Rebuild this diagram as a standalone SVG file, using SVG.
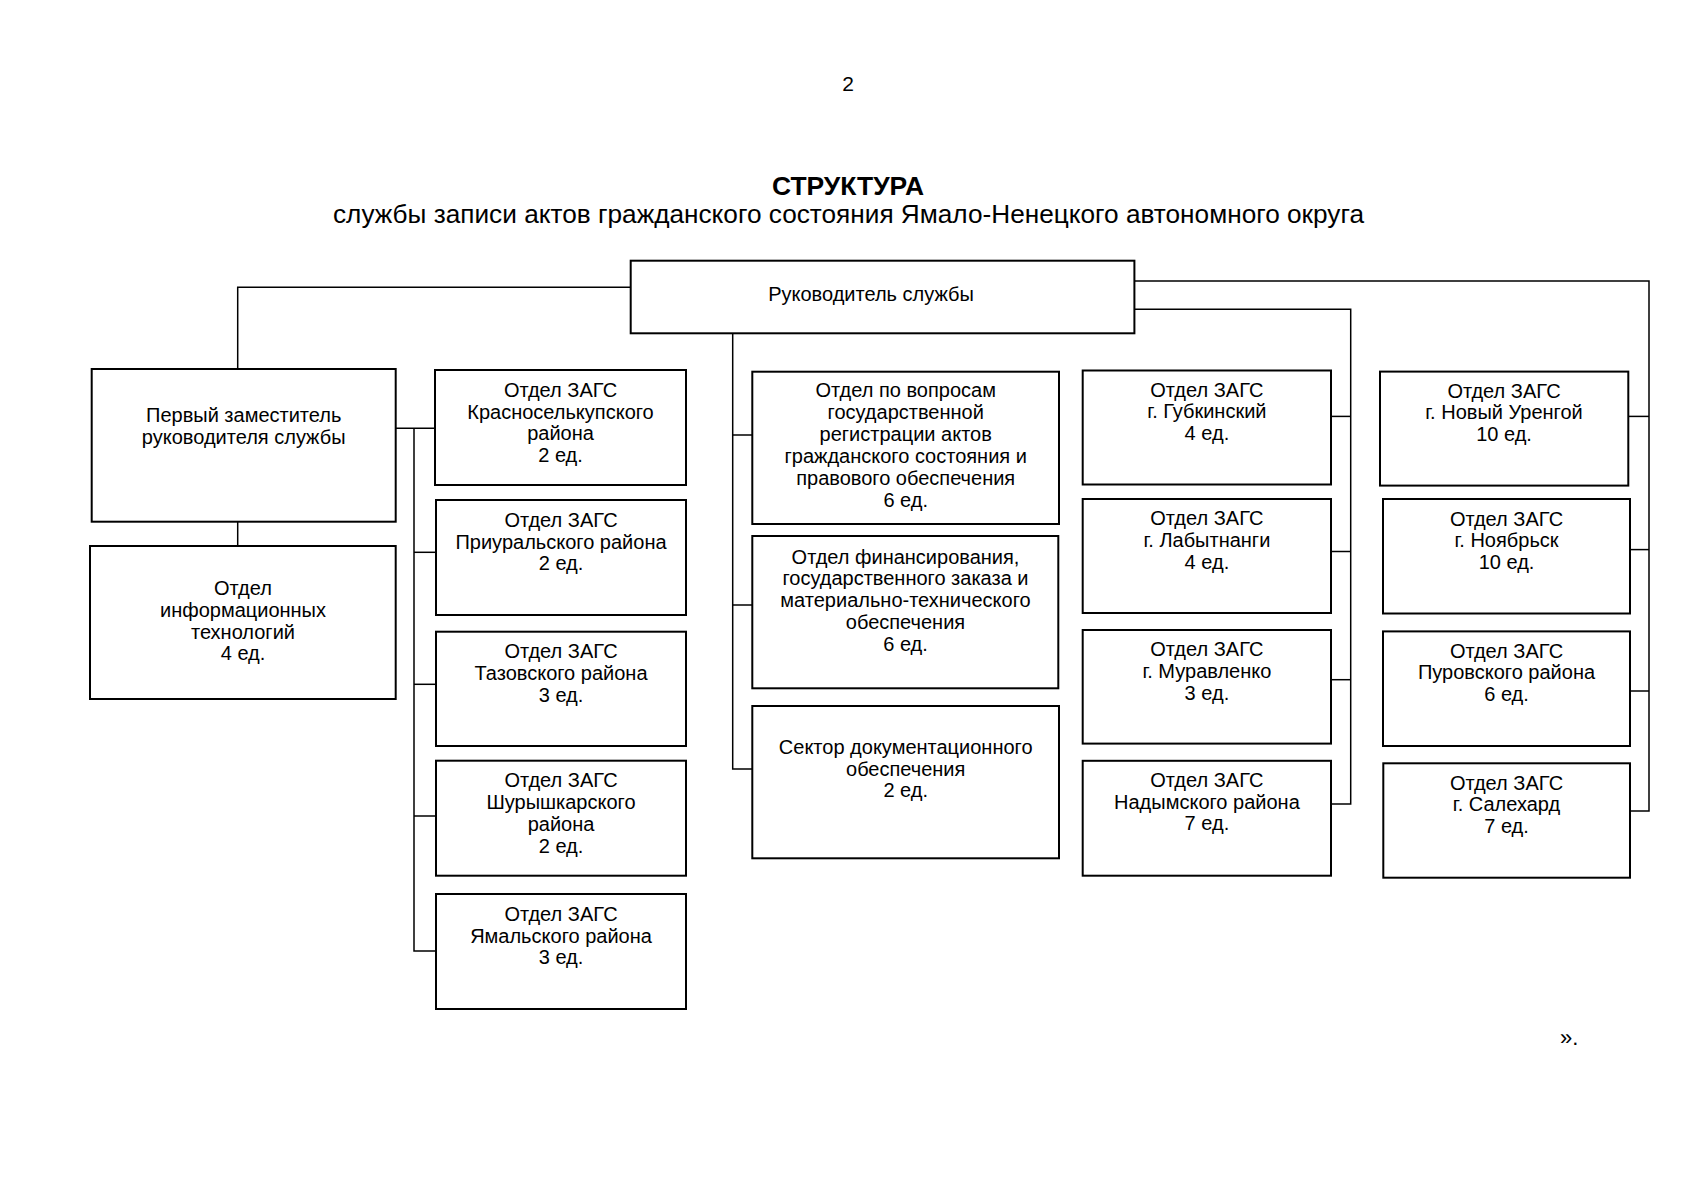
<svg xmlns="http://www.w3.org/2000/svg" width="1697" height="1200" viewBox="0 0 1697 1200">
<style>
  .bg { fill: #ffffff; }
  .box { fill: #ffffff; stroke: #000000; stroke-width: 2; }
  .con { fill: none; stroke: #000000; stroke-width: 1.5; }
  .t { font-family: "Liberation Sans", Arial, sans-serif; font-size: 20px; fill: #000000; text-anchor: middle; }
  .hdr { font-family: "Liberation Sans", Arial, sans-serif; fill: #000000; text-anchor: middle; }
</style>
<rect class="bg" x="0" y="0" width="1697" height="1200"/>
<text class="hdr" x="848" y="91" font-size="21">2</text>
<text class="hdr" x="848" y="195" font-size="25" font-weight="bold" textLength="152" lengthAdjust="spacingAndGlyphs">СТРУКТУРА</text>
<text class="hdr" x="848.5" y="222.5" font-size="25" textLength="1031" lengthAdjust="spacingAndGlyphs">службы записи актов гражданского состояния Ямало-Ненецкого автономного округа</text>
<text x="1560" y="1045" font-family="Liberation Sans, Arial, sans-serif" font-size="22" fill="#000000">».</text>

<g id="connectors">
  <polyline class="con" points="630.7,287.3 237.7,287.3 237.7,369"/>
  <line class="con" x1="237.7" y1="521.7" x2="237.7" y2="546"/>
  <line class="con" x1="395.7" y1="428.3" x2="435" y2="428.3"/>
  <polyline class="con" points="414,428.3 414,951 436,951"/>
  <line class="con" x1="414" y1="552.3" x2="436" y2="552.3"/>
  <line class="con" x1="414" y1="684.3" x2="436" y2="684.3"/>
  <line class="con" x1="414" y1="816" x2="436" y2="816"/>
  <polyline class="con" points="732.7,333.3 732.7,769 752.3,769"/>
  <line class="con" x1="732.7" y1="435" x2="752.3" y2="435"/>
  <line class="con" x1="732.7" y1="605" x2="752.3" y2="605"/>
  <polyline class="con" points="1134.4,309.2 1350.7,309.2 1350.7,804 1331,804"/>
  <line class="con" x1="1331" y1="416.4" x2="1350.7" y2="416.4"/>
  <line class="con" x1="1331" y1="551.5" x2="1350.7" y2="551.5"/>
  <line class="con" x1="1331" y1="679.7" x2="1350.7" y2="679.7"/>
  <polyline class="con" points="1134.4,281 1649,281 1649,811 1630,811"/>
  <line class="con" x1="1628.3" y1="416.4" x2="1649" y2="416.4"/>
  <line class="con" x1="1630" y1="549.6" x2="1649" y2="549.6"/>
  <line class="con" x1="1630" y1="691" x2="1649" y2="691"/>
</g>

<g id="root">
  <rect class="box" x="630.7" y="260.7" width="503.7" height="72.6"/>
  <text class="t" x="871" y="300.7">Руководитель службы</text>
</g>

<g id="deputy">
  <rect class="box" x="91.7" y="369" width="304" height="152.7"/>
  <text class="t" x="243.7" y="422">Первый заместитель<tspan x="243.7" dy="21.7">руководителя службы</tspan></text>
</g>

<g id="it">
  <rect class="box" x="90" y="546" width="305.7" height="153"/>
  <text class="t" x="243" y="595">Отдел<tspan x="243" dy="21.8">информационных</tspan><tspan x="243" dy="21.8">технологий</tspan><tspan x="243" dy="21.8">4 ед.</tspan></text>
</g>

<g id="krasnoselkup">
  <rect class="box" x="435" y="370" width="251" height="115"/>
  <text class="t" x="560.5" y="396.7">Отдел ЗАГС<tspan x="560.5" dy="21.8">Красноселькупского</tspan><tspan x="560.5" dy="21.8">района</tspan><tspan x="560.5" dy="21.8">2 ед.</tspan></text>
</g>

<g id="priuralsky">
  <rect class="box" x="436" y="500" width="250" height="115"/>
  <text class="t" x="561" y="526.7">Отдел ЗАГС<tspan x="561" dy="21.8">Приуральского района</tspan><tspan x="561" dy="21.8">2 ед.</tspan></text>
</g>

<g id="tazovsky">
  <rect class="box" x="436" y="631.7" width="250" height="114.3"/>
  <text class="t" x="561" y="658.4">Отдел ЗАГС<tspan x="561" dy="21.8">Тазовского района</tspan><tspan x="561" dy="21.8">3 ед.</tspan></text>
</g>

<g id="shuryshkar">
  <rect class="box" x="436" y="760.7" width="250" height="115"/>
  <text class="t" x="561" y="787.4">Отдел ЗАГС<tspan x="561" dy="21.8">Шурышкарского</tspan><tspan x="561" dy="21.8">района</tspan><tspan x="561" dy="21.8">2 ед.</tspan></text>
</g>

<g id="yamal">
  <rect class="box" x="436" y="894" width="250" height="115"/>
  <text class="t" x="561" y="920.7">Отдел ЗАГС<tspan x="561" dy="21.8">Ямальского района</tspan><tspan x="561" dy="21.8">3 ед.</tspan></text>
</g>

<g id="registration">
  <rect class="box" x="752.3" y="371.7" width="306.7" height="152.3"/>
  <text class="t" x="905.7" y="396.7">Отдел по вопросам<tspan x="905.7" dy="22">государственной</tspan><tspan x="905.7" dy="22">регистрации актов</tspan><tspan x="905.7" dy="22">гражданского состояния и</tspan><tspan x="905.7" dy="22">правового обеспечения</tspan><tspan x="905.7" dy="22">6 ед.</tspan></text>
</g>

<g id="finance">
  <rect class="box" x="752.3" y="536" width="306" height="152.3"/>
  <text class="t" x="905.5" y="563.5">Отдел финансирования,<tspan x="905.5" dy="21.8">государственного заказа и</tspan><tspan x="905.5" dy="21.8">материально-технического</tspan><tspan x="905.5" dy="21.8">обеспечения</tspan><tspan x="905.5" dy="21.8">6 ед.</tspan></text>
</g>

<g id="docsector">
  <rect class="box" x="752.3" y="706" width="306.7" height="152.3"/>
  <text class="t" x="905.7" y="753.8">Сектор документационного<tspan x="905.7" dy="21.8">обеспечения</tspan><tspan x="905.7" dy="21.8">2 ед.</tspan></text>
</g>

<g id="gubkinsky">
  <rect class="box" x="1082.7" y="370.5" width="248.3" height="114"/>
  <text class="t" x="1206.9" y="396.5">Отдел ЗАГС<tspan x="1206.9" dy="21.8">г. Губкинский</tspan><tspan x="1206.9" dy="21.8">4 ед.</tspan></text>
</g>

<g id="labytnangi">
  <rect class="box" x="1082.7" y="499" width="248.3" height="114"/>
  <text class="t" x="1206.9" y="525">Отдел ЗАГС<tspan x="1206.9" dy="21.8">г. Лабытнанги</tspan><tspan x="1206.9" dy="21.8">4 ед.</tspan></text>
</g>

<g id="muravlenko">
  <rect class="box" x="1082.7" y="630" width="248.3" height="113.6"/>
  <text class="t" x="1206.9" y="656">Отдел ЗАГС<tspan x="1206.9" dy="21.8">г. Муравленко</tspan><tspan x="1206.9" dy="21.8">3 ед.</tspan></text>
</g>

<g id="nadym">
  <rect class="box" x="1082.7" y="760.8" width="248.3" height="114.9"/>
  <text class="t" x="1206.9" y="786.8">Отдел ЗАГС<tspan x="1206.9" dy="21.8">Надымского района</tspan><tspan x="1206.9" dy="21.8">7 ед.</tspan></text>
</g>

<g id="novy-urengoy">
  <rect class="box" x="1380" y="371.6" width="248.3" height="114"/>
  <text class="t" x="1504" y="397.5">Отдел ЗАГС<tspan x="1504" dy="21.8">г. Новый Уренгой</tspan><tspan x="1504" dy="21.8">10 ед.</tspan></text>
</g>

<g id="noyabrsk">
  <rect class="box" x="1383" y="499" width="247" height="114.5"/>
  <text class="t" x="1506.5" y="525.5">Отдел ЗАГС<tspan x="1506.5" dy="21.8">г. Ноябрьск</tspan><tspan x="1506.5" dy="21.8">10 ед.</tspan></text>
</g>

<g id="purovsky">
  <rect class="box" x="1383" y="631.4" width="247" height="114.6"/>
  <text class="t" x="1506.5" y="657.5">Отдел ЗАГС<tspan x="1506.5" dy="21.8">Пуровского района</tspan><tspan x="1506.5" dy="21.8">6 ед.</tspan></text>
</g>

<g id="salekhard">
  <rect class="box" x="1383.3" y="763.3" width="246.7" height="114.4"/>
  <text class="t" x="1506.5" y="789.5">Отдел ЗАГС<tspan x="1506.5" dy="21.8">г. Салехард</tspan><tspan x="1506.5" dy="21.8">7 ед.</tspan></text>
</g>
</svg>
